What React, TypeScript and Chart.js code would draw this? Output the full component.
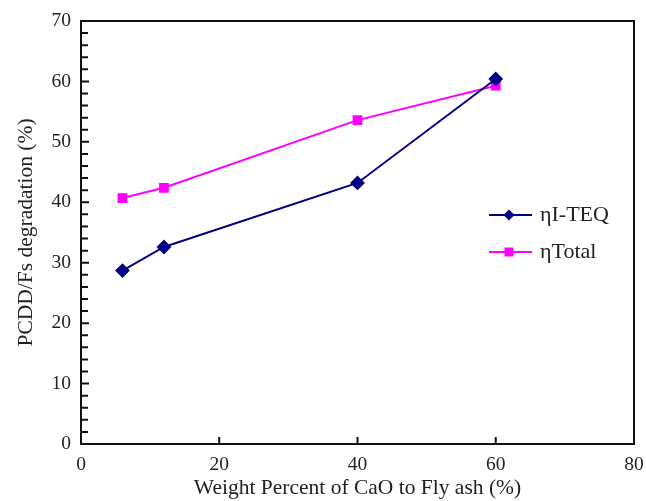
import React, { useEffect, useRef } from "react";
import { Chart, registerables } from "chart.js";

Chart.register(...registerables);

const xValues = [6, 12, 40, 60];
const teqValues = [28.7, 32.6, 43.2, 60.4];
const totalValues = [40.7, 42.4, 53.6, 59.3];
const seriesLabels = ["ηI-TEQ", "ηTotal"];
const xTicks = [0, 20, 40, 60, 80];
const yTicks = [0, 10, 20, 30, 40, 50, 60, 70];
const xTitle = "Weight Percent of CaO to Fly ash (%)";
const yTitle = "PCDD/Fs degradation (%)";

const FONT = "'Liberation Serif', 'Times New Roman', serif";
const TEXT = "#222";

const framePlugin = {
  id: "frame",
  afterDraw(chart: any) {
    const { ctx, chartArea } = chart;
    const { left, right, top, bottom } = chartArea;
    const xs = chart.scales.x;
    const ys = chart.scales.y;
    ctx.save();
    ctx.strokeStyle = "#111";
    ctx.lineWidth = 2;
    ctx.strokeRect(left, top, right - left, bottom - top);
    ctx.beginPath();
    for (let v = 0; v <= 70; v += 2) {
      const y = ys.getPixelForValue(v);
      const len = v % 10 === 0 ? 8 : 7;
      ctx.moveTo(left, y);
      ctx.lineTo(left + len, y);
    }
    for (const v of xTicks) {
      if (v === 0 || v === 80) continue;
      const x = xs.getPixelForValue(v);
      ctx.moveTo(x, bottom);
      ctx.lineTo(x, bottom - 7);
    }
    ctx.stroke();

    // legend
    const lx = 489;
    const rows = [215, 252];
    chart.data.datasets.forEach((ds: any, i: number) => {
      const y = rows[i];
      ctx.strokeStyle = ds.borderColor;
      ctx.lineWidth = 2;
      ctx.beginPath();
      ctx.moveTo(lx, y);
      ctx.lineTo(lx + 43, y);
      ctx.stroke();
      ctx.fillStyle = ds.pointBackgroundColor;
      const cx = lx + 20;
      if (ds.pointStyle === "rectRot") {
        const r = 5.5;
        ctx.beginPath();
        ctx.moveTo(cx, y - r);
        ctx.lineTo(cx + r, y);
        ctx.lineTo(cx, y + r);
        ctx.lineTo(cx - r, y);
        ctx.closePath();
        ctx.fill();
      } else {
        ctx.fillRect(cx - 4.5, y - 4.5, 9, 9);
      }
      ctx.fillStyle = TEXT;
      ctx.font = `22px ${FONT}`;
      ctx.textBaseline = "middle";
      ctx.textAlign = "left";
      ctx.fillText(ds.label, lx + 51, y);
    });
    ctx.restore();
  },
};

export default function App() {
  const ref = useRef<HTMLCanvasElement>(null);
  useEffect(() => {
    document.body.style.margin = "0";
    const canvas = ref.current!;
    const chart = new Chart(canvas, {
      type: "line",
      data: {
        datasets: [
          {
            label: seriesLabels[0],
            data: xValues.map((x, i) => ({ x, y: teqValues[i] })),
            borderColor: "#000080",
            backgroundColor: "#000080",
            pointBackgroundColor: "#000080",
            pointBorderColor: "#000080",
            pointStyle: "rectRot",
            pointRadius: 6,
            borderWidth: 2,
            tension: 0,
          },
          {
            label: seriesLabels[1],
            data: xValues.map((x, i) => ({ x, y: totalValues[i] })),
            borderColor: "#ff00ff",
            backgroundColor: "#ff00ff",
            pointBackgroundColor: "#ff00ff",
            pointBorderColor: "#ff00ff",
            pointStyle: "rect",
            pointRadius: 5.5,
            borderWidth: 2,
            tension: 0,
          },
        ],
      },
      options: {
        animation: false,
        responsive: false,
        maintainAspectRatio: false,
        layout: { padding: { top: 21, right: 12, left: 0, bottom: 0 } },
        plugins: { legend: { display: false }, tooltip: { enabled: false } },
        scales: {
          x: {
            type: "linear",
            min: 0,
            max: 80,
            afterBuildTicks: (s: any) => {
              s.ticks = xTicks.map((v) => ({ value: v }));
            },
            afterFit: (s: any) => {
              s.height = 57;
              s.paddingLeft = 0;
              s.paddingRight = 0;
            },
            grid: { display: false },
            border: { display: false },
            ticks: {
              padding: 1,
              color: TEXT,
              font: { family: FONT, size: 19.5 },
              maxRotation: 0,
            },
            title: {
              display: true,
              text: xTitle,
              color: TEXT,
              font: { family: FONT, size: 21.5 },
              padding: { top: -2, bottom: 0 },
            },
          },
          y: {
            type: "linear",
            min: 0,
            max: 70,
            afterBuildTicks: (s: any) => {
              s.ticks = yTicks.map((v) => ({ value: v }));
            },
            afterFit: (s: any) => {
              s.width = 81;
              s.paddingTop = 0;
              s.paddingBottom = 0;
            },
            grid: { display: false },
            border: { display: false },
            ticks: {
              padding: 2,
              color: TEXT,
              font: { family: FONT, size: 19.5 },
            },
            title: {
              display: true,
              text: yTitle,
              color: TEXT,
              font: { family: FONT, size: 21.5 },
              padding: { top: 13, bottom: 0 },
            },
          },
        },
      },
      plugins: [framePlugin],
    });
    return () => chart.destroy();
  }, []);
  return (
    <div style={{ width: 646, height: 501 }}>
      <canvas ref={ref} width={646} height={501} style={{ display: "block" }} />
    </div>
  );
}
